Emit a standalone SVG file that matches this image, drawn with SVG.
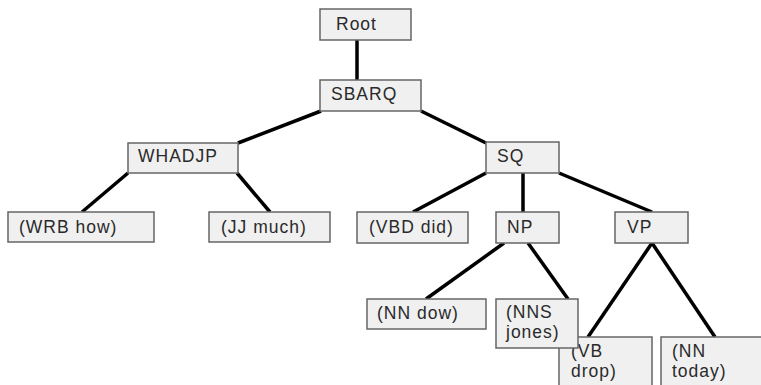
<svg xmlns="http://www.w3.org/2000/svg" width="761" height="385" viewBox="0 0 761 385">
<style>
.e{stroke:#000;stroke-width:3.5;fill:none;stroke-linecap:butt}
.b{fill:#f0f0f0;stroke:#666;stroke-width:1.5}
.t{font-family:"Liberation Sans",Arial,sans-serif;font-size:17.5px;fill:#2a2a2a;letter-spacing:1px}
</style>
<rect width="761" height="385" fill="#fff"/>
<g id="connectors">
<line class="e" x1="357" y1="40" x2="357" y2="80"/>
<line class="e" x1="321" y1="111" x2="238" y2="143"/>
<line class="e" x1="421" y1="111" x2="486" y2="143"/>
<line class="e" x1="128" y1="173" x2="82" y2="212"/>
<line class="e" x1="237" y1="173" x2="270" y2="212"/>
<line class="e" x1="486" y1="173" x2="413" y2="212"/>
<line class="e" x1="523" y1="173" x2="523" y2="218"/>
<line class="e" x1="559" y1="173" x2="652" y2="212"/>
<line class="e" x1="504" y1="243" x2="426" y2="299"/>
<line class="e" x1="528" y1="243" x2="568" y2="299"/>
<line class="e" x1="652" y1="243" x2="588" y2="337"/>
<line class="e" x1="652" y1="243" x2="715" y2="337"/>
</g>
<g id="root"><rect class="b" x="320" y="9" width="91" height="31"/><text class="t" x="336" y="30">Root</text></g>
<g id="sbarq"><rect class="b" x="320" y="80" width="101" height="31"/><text class="t" x="331" y="100">SBARQ</text></g>
<g id="whadjp"><rect class="b" x="128" y="143" width="110" height="30"/><text class="t" x="138" y="162">WHADJP</text></g>
<g id="sq"><rect class="b" x="486" y="142" width="73" height="31"/><text class="t" x="497" y="162">SQ</text></g>
<g id="wrb"><rect class="b" x="8" y="212" width="146" height="30"/><text class="t" x="19" y="233">(WRB how)</text></g>
<g id="jj"><rect class="b" x="209" y="212" width="121" height="30"/><text class="t" x="221" y="233">(JJ much)</text></g>
<g id="vbd"><rect class="b" x="357" y="212" width="111" height="31"/><text class="t" x="369" y="233">(VBD did)</text></g>
<g id="np"><rect class="b" x="496" y="212" width="63" height="31"/><text class="t" x="507" y="233">NP</text></g>
<g id="vp"><rect class="b" x="615" y="212" width="73" height="31"/><text class="t" x="627" y="233">VP</text></g>
<g id="nn-dow"><rect class="b" x="367" y="299" width="119" height="30"/><text class="t" x="377" y="319">(NN dow)</text></g>
<g id="vb-drop"><rect class="b" x="559" y="337" width="93" height="52"/><text class="t" x="571" y="357">(VB</text><text class="t" x="571" y="377">drop)</text></g>
<g id="nn-today"><rect class="b" x="661" y="337" width="104" height="52"/><text class="t" x="672" y="357">(NN</text><text class="t" x="672" y="377">today)</text></g>
<g id="nns-jones"><rect class="b" x="496" y="299" width="82" height="49"/><text class="t" x="506" y="318">(NNS</text><text class="t" x="506" y="338">jones)</text></g>
</svg>
